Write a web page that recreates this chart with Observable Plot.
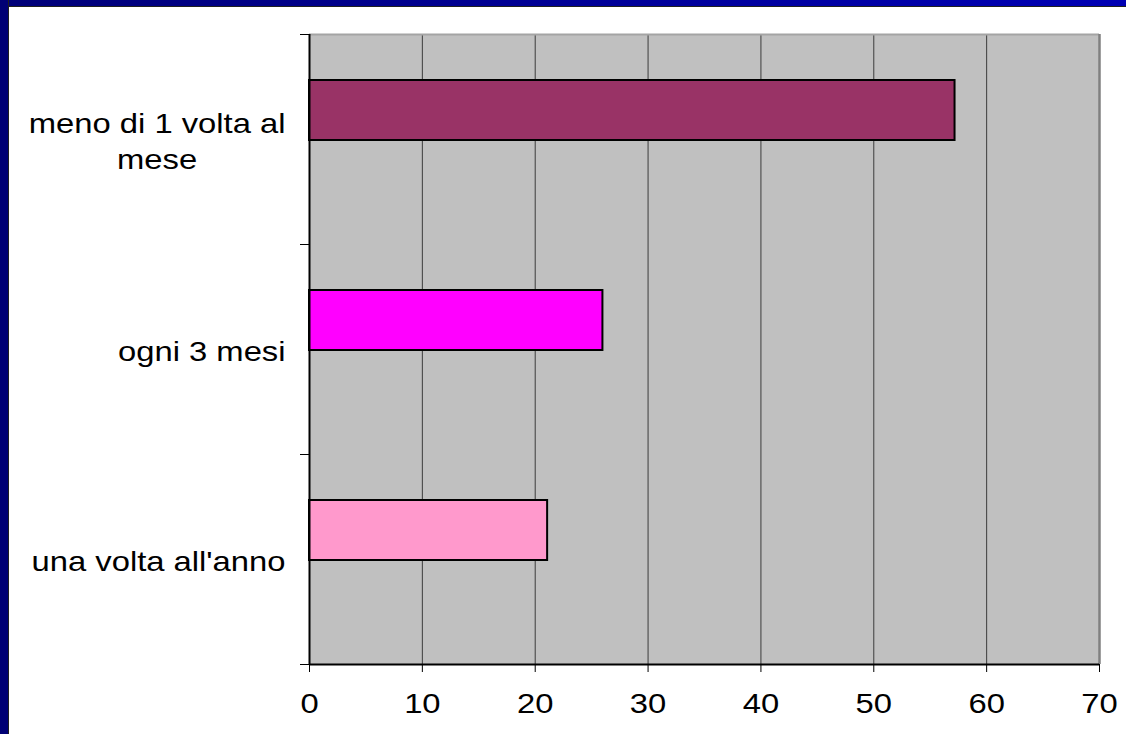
<!DOCTYPE html>
<html lang="it">
<head>
<meta charset="utf-8">
<title>Frequenza</title>
<script src="https://cdn.jsdelivr.net/npm/d3@7"></script>
<script src="https://cdn.jsdelivr.net/npm/@observablehq/plot@0.6"></script>
<style>
  html, body { margin: 0; padding: 0; background: #fff; }
  #page { position: relative; width: 1126px; height: 734px; background: #fff; overflow: hidden; }
  #topbar { position: absolute; left: 0; top: 0; width: 1126px; height: 6px;
            background: linear-gradient(to right, #000078, #0000b4); border-bottom: 1px solid #202020; }
  #leftbar { position: absolute; left: 0; top: 0; width: 8px; height: 734px;
             background: #000074; border-right: 1px solid #202020; }
  #chart { position: absolute; left: 9px; top: 7px; }
  #chart svg { font-family: "Liberation Sans", Arial, sans-serif; }
</style>
</head>
<body>
<div id="page">
  <div id="topbar"></div>
  <div id="leftbar"></div>
  <div id="chart"></div>
</div>
<script>
// Categories (top to bottom), shares in percent and bar fills
const categories = ["meno di 1 volta al\nmese", "ogni 3 mesi", "una volta all'anno"];
const values = [57.2, 26, 21.1];
const colors = ["#993366", "#FF00FF", "#FF99CC"];
const xTicks = [0, 10, 20, 30, 40, 50, 60, 70];

const rows = categories.map((c, i) => ({label: c, value: values[i], fill: colors[i], i}));

const FONT = 28;          // glyph height in px
const STRETCH = 1.17;     // horizontal widening of the lettering

const chart = Plot.plot({
  width: 1117,
  height: 727,
  marginLeft: 300,
  marginRight: 27,
  marginTop: 27,
  marginBottom: 70,
  style: {background: "transparent", color: "#000"},
  x: {domain: [0, 70]},
  y: {domain: [0, categories.length], reverse: true},
  marks: [
    Plot.frame({fill: "#c0c0c0", stroke: null}),
    // vertical gridlines
    Plot.ruleX(xTicks.filter(t => t > 0 && t < 70), {stroke: "#3c3c3c", strokeWidth: 1}),
    // plot-area edges
    Plot.ruleY([0], {stroke: "#a4a4a4", strokeWidth: 2}),
    Plot.ruleX([70], {stroke: "#808080", strokeWidth: 2.5}),
    // bars
    Plot.rect(rows, {
      x1: d => 0,
      x2: "value",
      y1: "i",
      y2: d => d.i + 1,
      fill: "fill",
      stroke: "#000",
      strokeWidth: 2,
      insetTop: 46,
      insetBottom: 104
    }),
    // axis lines
    Plot.ruleX([0], {stroke: "#000", strokeWidth: 2}),
    Plot.ruleY([categories.length], {stroke: "#000", strokeWidth: 2}),
    // category boundary ticks on the left
    Plot.axisY({ticks: d3.range(categories.length + 1), tickSize: 9, tickFormat: () => "", label: null, stroke: "#000"}),
    // value axis
    Plot.axisX({ticks: xTicks, tickSize: 8, tickPadding: 21, fontSize: FONT, label: null, stroke: "#000", fill: "#000"}),
    // category labels
    Plot.text(rows, {
      x: d => 0,
      y: d => d.i + 0.5,
      text: "label",
      textAnchor: "end",
      dx: -24,
      fontSize: FONT,
      lineHeight: 1.28,
      fill: "#000"
    })
  ]
});

document.getElementById("chart").appendChild(chart);

// Center the lines of wrapped labels under each other, then widen all lettering
chart.querySelectorAll("text").forEach(t => {
  const spans = t.querySelectorAll("tspan");
  if (spans.length > 1) {
    const b = t.getBBox();
    const cx = b.x + b.width / 2;
    t.setAttribute("text-anchor", "middle");
    spans.forEach(s => s.setAttribute("x", cx));
  }
  const tr = t.getAttribute("transform") || "";
  t.setAttribute("transform", tr + ` scale(${STRETCH},1)`);
});
</script>
</body>
</html>
